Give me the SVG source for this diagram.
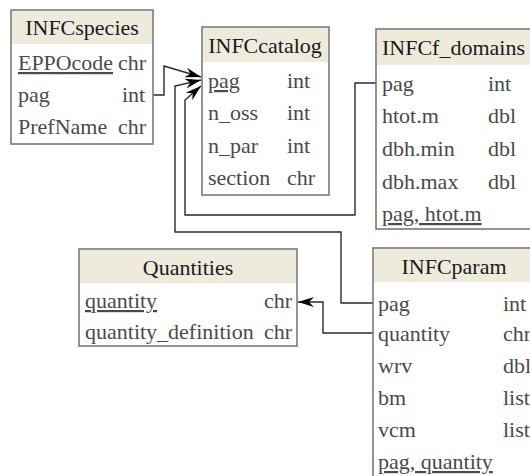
<svg xmlns="http://www.w3.org/2000/svg" width="530" height="476" viewBox="0 0 530 476">
<style>
.box{fill:#ffffff;stroke:#7a7a7a;stroke-width:1.6}
.hdr{fill:#eeebdd;stroke:none}
text{font-family:'Liberation Serif','Times New Roman',Times,'DejaVu Serif',serif}
.ht{font-size:22px;fill:#1a1a1a}
.ft{font-size:22px;fill:#4a4a4a}
.u{text-decoration:underline}
.c{fill:none;stroke:#2a2a2a;stroke-width:1.4}
</style>
<defs>
<marker id="vee" markerUnits="userSpaceOnUse" markerWidth="18" markerHeight="12" refX="16" refY="5" orient="auto" viewBox="0 0 18 10">
<path d="M0,0 L16,5 L0,10 L5,5 z" fill="#000"/>
</marker>
</defs>
<g id="connectors">
<path class="c" d="M153,95 H164 V66 L201,77" marker-end="url(#vee)"/>
<path class="c" d="M373,303 H341 V232 H175 V86 L201,80" marker-end="url(#vee)"/>
<path class="c" d="M376,83 H355 V215 H185 V100 L201,86" marker-end="url(#vee)"/>
<path class="c" d="M373,333 H323 V302 H298" marker-end="url(#vee)"/>
</g>
<g id="INFCspecies">
<rect class="box" x="11" y="10" width="142" height="134"/>
<rect class="hdr" x="12" y="11" width="140" height="33"/>
<text class="ht" x="82" y="35" text-anchor="middle">INFCspecies</text>
<text class="ft u" x="18" y="70" textLength="95" lengthAdjust="spacingAndGlyphs">EPPOcode</text><text class="ft" x="118" y="70">chr</text>
<text class="ft" x="18" y="102">pag</text><text class="ft" x="122" y="102">int</text>
<text class="ft" x="18" y="134">PrefName</text><text class="ft" x="118" y="134">chr</text>
</g>
<g id="INFCcatalog">
<rect class="box" x="202" y="27" width="127" height="168"/>
<rect class="hdr" x="203" y="28" width="125" height="34"/>
<text class="ht" x="265" y="53" text-anchor="middle">INFCcatalog</text>
<text class="ft u" x="208" y="88">pag</text><text class="ft" x="287" y="88">int</text>
<text class="ft" x="208" y="120">n_oss</text><text class="ft" x="287" y="120">int</text>
<text class="ft" x="208" y="153">n_par</text><text class="ft" x="287" y="153">int</text>
<text class="ft" x="208" y="185">section</text><text class="ft" x="287" y="185">chr</text>
</g>
<g id="INFCf_domains">
<rect class="box" x="376" y="29" width="170" height="200"/>
<rect class="hdr" x="377" y="30" width="168" height="35"/>
<text class="ht" x="382" y="55">INFCf_domains</text>
<text class="ft" x="382" y="91">pag</text><text class="ft" x="488" y="91">int</text>
<text class="ft" x="382" y="123">htot.m</text><text class="ft" x="488" y="123">dbl</text>
<text class="ft" x="382" y="156">dbh.min</text><text class="ft" x="488" y="156">dbl</text>
<text class="ft" x="382" y="189">dbh.max</text><text class="ft" x="488" y="189">dbl</text>
<text class="ft u" x="382" y="221">pag, htot.m</text>
</g>
<g id="Quantities">
<rect class="box" x="79" y="249" width="218" height="97"/>
<rect class="hdr" x="80" y="250" width="216" height="33"/>
<text class="ht" x="188" y="275" text-anchor="middle">Quantities</text>
<text class="ft u" x="85" y="308">quantity</text><text class="ft" x="292" y="308" text-anchor="end">chr</text>
<text class="ft" x="85" y="339">quantity_definition</text><text class="ft" x="292" y="339" text-anchor="end">chr</text>
</g>
<g id="INFCparam">
<rect class="box" x="373" y="248" width="165" height="236"/>
<rect class="hdr" x="374" y="249" width="163" height="33"/>
<text class="ht" x="454" y="274" text-anchor="middle">INFCparam</text>
<text class="ft" x="378" y="311">pag</text><text class="ft" x="503" y="311">int</text>
<text class="ft" x="378" y="341">quantity</text><text class="ft" x="503" y="341">chr</text>
<text class="ft" x="378" y="373">wrv</text><text class="ft" x="503" y="373">dbl</text>
<text class="ft" x="378" y="405">bm</text><text class="ft" x="503" y="405">list</text>
<text class="ft" x="378" y="437">vcm</text><text class="ft" x="503" y="437">list</text>
<text class="ft u" x="378" y="469">pag, quantity</text>
</g>
</svg>
